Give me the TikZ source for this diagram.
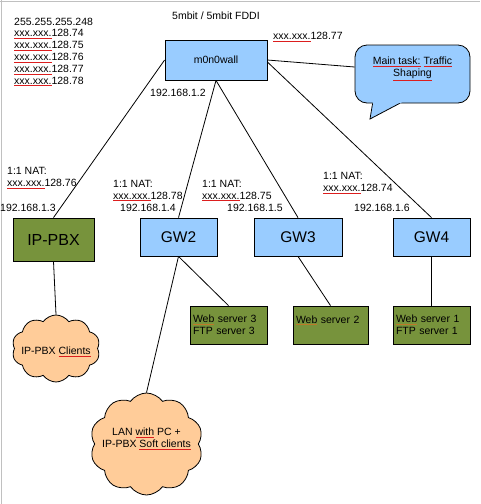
\documentclass[tikz,border=0pt]{standalone}
\usepackage{fontspec}
\setmainfont{Liberation Sans}
\usepackage{tikz}
\usetikzlibrary{shapes.symbols,calc}
\usepackage{xcolor}
\definecolor{wallcol}{RGB}{153,204,255}
\definecolor{pbxcol}{RGB}{119,147,60}
\definecolor{cloudcol}{RGB}{255,204,153}
\definecolor{framecol}{RGB}{192,192,192}
\definecolor{spellcol}{RGB}{220,30,30}
\definecolor{gramcol}{RGB}{190,120,40}
\newcommand{\spell}[1]{\textcolor{spellcol}{\underline{\textcolor{black}{#1}}}}
\newcommand{\gram}[1]{\textcolor{gramcol}{\underline{\textcolor{black}{#1}}}}
\tikzset{
  % network box (firewall, gateways)
  netbox/.style={rectangle, draw, line width=0.8pt, fill=#1, inner sep=0pt,
                 font=\fontsize{15.5}{18}\selectfont},
  netbox/.default={wallcol},
  % server box
  srvbox/.style={rectangle, draw, line width=0.8pt, fill=pbxcol, minimum height=38pt,
                 text width=71pt, align=left, inner sep=3pt, font=\fontsize{10.5}{11.6}\selectfont},
  % cloud of clients
  clientcloud/.style={cloud, cloud puffs=10, cloud puff arc=110, cloud ignores aspect,
                      draw, line width=0.8pt, fill=cloudcol, inner sep=0pt},
  % speech bubble
  bubble/.style={rectangle, rounded corners=12pt, draw, line width=0.8pt, fill=wallcol,
                 minimum width=115pt, minimum height=58pt, align=center, inner sep=0pt,
                 font=\fontsize{10.5}{11.6}\selectfont},
  % plain text
  txt/.style={inner sep=0pt, anchor=west, align=left, font=\fontsize{10.5}{11.8}\selectfont},
  % link between boxes
  link/.style={line width=0.8pt},
}

\begin{document}
\begin{tikzpicture}[x=1pt, y=-1pt]
  \useasboundingbox (0,0) rectangle (480,504);

  % ═══════ FRAME ═══════
  \draw[framecol, line width=1.5pt] (0,1.5) -- (480,1.5) (1.5,0) -- (1.5,504);

  % ═══════ HEADER ═══════
  \node[txt] (mask) at (14,52) {255.255.255.248\\\spell{xxx.xxx.}128.74\\\spell{xxx.xxx.}128.75\\
    \spell{xxx.xxx.}128.76\\\spell{xxx.xxx.}128.77\\\spell{xxx.xxx.}128.78};
  \node[txt] (title) at (172,16) {5mbit / 5mbit FDDI};
  \node[txt] (wan) at (273,37) {\spell{xxx.xxx.}128.77};

  % ═══════ FIREWALL ═══════
  \node[netbox, minimum width=102pt, minimum height=40pt, font=\fontsize{10.5}{12}\selectfont]
    (wall) at (216,60) {m0n0wall};
  \node[txt] (ip2) at (150,93) {192.168.1.2};

  % speech bubble with its tail
  \node[bubble] (task) at (412.5,74) {\spell{Main task:} \spell{Traffic}\\\spell{Shaping}\\[3pt]\mbox{}};
  \coordinate (tip) at (370,119);
  \coordinate (tailL) at ([xshift=18pt]task.south west);
  \coordinate (tailR) at ([xshift=45pt]task.south west);
  \fill[wallcol] (tip) -- ($(tip)!1.15!(tailL)$) -- ($(tip)!1.15!(tailR)$) -- cycle;
  \draw[link] (tailL) -- (tip) -- (tailR);

  % ═══════ GATEWAYS ═══════
  \node[netbox=pbxcol, minimum width=81pt, minimum height=43pt, font=\fontsize{16}{18}\selectfont]
    (pbx) at (53.5,239.5) {IP-PBX};
  \node[netbox, minimum width=77pt, minimum height=38pt] (gw2) at (178.5,237) {GW2};
  \node[netbox, minimum width=88pt, minimum height=38pt] (gw3) at (298,237) {GW3};
  \node[netbox, minimum width=77pt, minimum height=38pt] (gw4) at (431.5,237) {GW4};

  % NAT and inside addresses
  \node[txt] (nat1) at (7,178) {1:1 NAT:\\\spell{xxx.xxx.}128.76};
  \node[txt] (nat2) at (113,190.5) {1:1 NAT:\\\spell{xxx.xxx.}128.78};
  \node[txt] (nat3) at (202,190.5) {1:1 NAT:\\\spell{xxx.xxx.}128.75};
  \node[txt] (nat4) at (323,183) {1:1 NAT:\\\spell{xxx.xxx.}128.74};
  \node[txt] (ip3) at (0,208) {192.168.1.3};
  \node[txt] (ip4) at (120,208) {192.168.1.4};
  \node[txt] (ip5) at (227,208) {192.168.1.5};
  \node[txt] (ip6) at (354,208) {192.168.1.6};

  % ═══════ SERVERS ═══════
  \node[srvbox] (web3) at (228.5,325) {\gram{Web} server 3\\FTP server 3};
  \node[srvbox, text width=69pt] (web2) at (330.5,325) {\gram{Web} server 2\\\mbox{}};
  \node[srvbox] (web1) at (431.5,325) {\gram{Web} server 1\\FTP server 1};

  % ═══════ CLIENTS ═══════
  \node[clientcloud, minimum width=88pt, minimum height=67pt] (phones) at (56,348.5) {};
  \node[txt, anchor=center] (phonestxt) at ([yshift=-3.5pt]phones.center) {IP-PBX \spell{Clients}};
  \node[clientcloud, minimum width=113pt, minimum height=102pt] (lan) at (146.5,444) {};
  \node[txt, anchor=center, align=center] (lantxt) at ([yshift=5pt]lan.center)
    {LAN \spell{with} PC +\\IP-PBX \spell{Soft clients}};

  % ═══════ LINKS ═══════
  \draw[link] (wall.west) -- (pbx.north);
  \draw[link] (wall.south) -- (gw2.north);
  \draw[link] (wall.south) -- (gw3.north);
  \draw[link] ([yshift=-2pt]wall.east) -- (gw4.north);
  \draw[link] (wall.east) -- ([yshift=7pt]task.west);
  \draw[link] (pbx.south) -- (phones.north);
  \draw[link] (gw2.south) -- (web3.north);
  \draw[link] (gw2.south) -- (lan.north);
  \draw[link] (gw3.south) -- (web2.north);
  \draw[link] (gw4.south) -- (web1.north);

\end{tikzpicture}
\end{document}
